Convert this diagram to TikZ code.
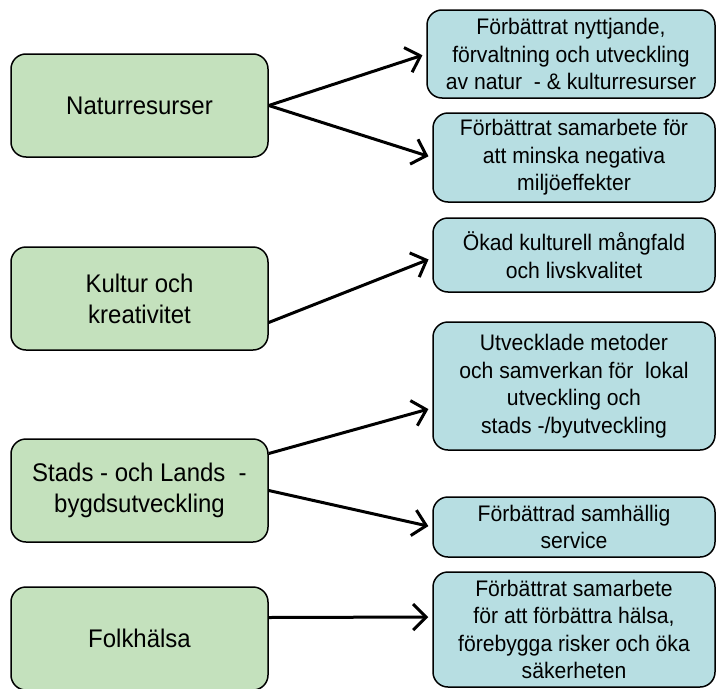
\documentclass[tikz,border=0pt]{standalone}
\usepackage{fontspec}
\setmainfont[FakeStretch=0.94]{Liberation Sans}
\usetikzlibrary{arrows.meta}
\definecolor{areagreen}{RGB}{196,225,189}
\definecolor{goalblue}{RGB}{183,222,226}

\begin{document}
\begin{tikzpicture}[x=1pt, y=-1pt,
	area/.style = {draw, line width=1.5pt, rounded corners=15pt, fill=areagreen,
		minimum width=257pt, minimum height=103pt, align=center,
		font=\fontsize{25.5}{31}\selectfont},
	goal/.style = {draw, line width=1.5pt, rounded corners=15pt, fill=goalblue,
		minimum width=282pt, inner sep=0pt, align=center,
		font=\fontsize{22.5}{27.5}\selectfont},
	link/.style = {line width=3pt, -{Straight Barb[length=13pt, width=26pt]}, shorten >=4pt}]
\useasboundingbox (0,0) rectangle (717,688);
\node[area] (nat) at (139.5,105.5) {Naturresurser};
\node[area] (kul) at (139.5,298.5) {Kultur och\\kreativitet};
\node[area] (sta) at (139.5,490.5) {Stads - och Lands~ -\\bygdsutveckling};
\node[area] (fol) at (139.5,638.5) {Folkhälsa};
\node[goal, minimum width=288pt, minimum height=88pt] (nytt) at (571,54)
	{Förbättrat nyttjande,\\förvaltning och utveckling\\av natur~ - \& kulturresurser};
\node[goal, minimum height=89pt] (milj) at (574,157.5)
	{Förbättrat samarbete för\\att minska negativa\\miljöeffekter};
\node[goal, minimum height=74pt] (mang) at (574,255)
	{Ökad kulturell mångfald\\och livskvalitet};
\node[goal, minimum height=128pt] (meto) at (574,386)
	{Utvecklade metoder\\och samverkan för~ lokal\\utveckling och\\stads -/byutveckling};
\node[goal, minimum height=60pt] (serv) at (574,527)
	{Förbättrad samhällig\\service};
\node[goal, minimum height=115pt] (hals) at (574,629.5)
	{Förbättrat samarbete\\för att förbättra hälsa,\\förebygga risker och öka\\säkerheten};
\draw[link] (nat.east) -- (nytt.west);
\draw[link] (nat.east) -- (milj.west);
\draw[link] ([yshift=-24pt]kul.east) -- ([yshift=-3pt]mang.west);
\draw[link] ([yshift=37pt]sta.east) -- ([yshift=-22pt]meto.west);
\draw[link] ([yshift=0pt]sta.east) -- (serv.west);
\draw[link] ([yshift=21pt]fol.east) -- ([yshift=12.5pt]hals.west);
\end{tikzpicture}
\end{document}
